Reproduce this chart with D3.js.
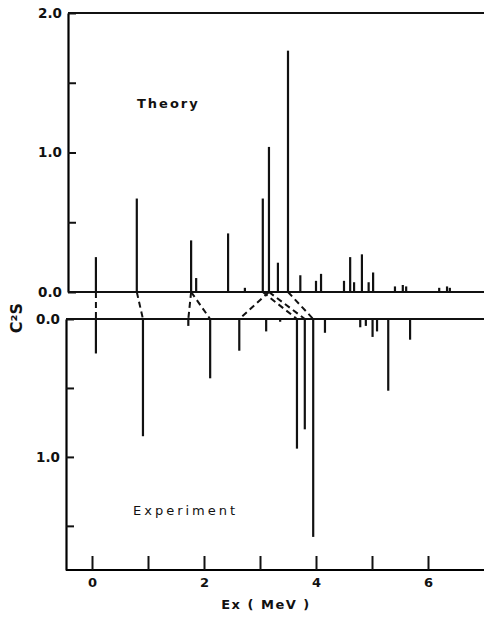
<!DOCTYPE html>
<html>
<head>
<meta charset="utf-8">
<script src="https://cdn.jsdelivr.net/npm/d3@7"></script>
<style>
  body { margin: 0; background: #fff; }
  svg text { font-family: "DejaVu Sans", sans-serif; fill: #111; }
</style>
</head>
<body>
<script>
// ---- data ----
const theoryE = [0.07, 0.80, 1.77, 1.86, 2.43, 2.73, 3.05, 3.16, 3.32, 3.50, 3.72, 4.00, 4.09,
                 4.50, 4.61, 4.68, 4.82, 4.94, 5.02, 5.41, 5.55, 5.61, 6.20, 6.34, 6.39];
const theoryS = [0.25, 0.67, 0.37, 0.10, 0.42, 0.03, 0.67, 1.04, 0.21, 1.73, 0.12, 0.08, 0.13,
                 0.08, 0.25, 0.07, 0.27, 0.07, 0.14, 0.04, 0.05, 0.04, 0.03, 0.04, 0.03];

const expE = [0.07, 0.91, 1.72, 2.11, 2.63, 3.11, 3.36, 3.66, 3.80, 3.95, 4.16, 4.79, 4.89, 5.01, 5.09, 5.29, 5.68];
const expS = [0.25, 0.85, 0.05, 0.43, 0.23, 0.09, 0.02, 0.94, 0.80, 1.58, 0.10, 0.06, 0.05, 0.13, 0.09, 0.52, 0.15];

// theory level -> experiment level
const links = [[0.07, 0.07], [0.80, 0.91], [1.77, 1.72], [1.77, 2.11],
               [3.16, 2.63], [3.05, 3.66], [3.16, 3.80], [3.50, 3.95]];

const xTicks = [0, 1, 2, 3, 4, 5, 6];
const yTicks = [0, 0.5, 1.0, 1.5, 2.0];

// ---- layout ----
const W = 484, H = 617;
const svg = d3.select("body").append("svg").attr("width", W).attr("height", H);

const x = d3.scaleLinear().domain([0, 7]).range([92, 484]);
const yTop = d3.scaleLinear().domain([0, 2]).range([292, 13]);
const yBot = d3.scaleLinear().domain([0, 1.82]).range([319, 570]);

const leftTop = 68, leftBot = 66;

// ---- top panel (Theory) ----
const axTop = svg.append("g").attr("transform", `translate(${leftTop},0)`)
    .call(d3.axisLeft(yTop).tickValues(yTicks).tickSize(-8).tickSizeOuter(0).tickPadding(6)
        .tickFormat(d => (d % 1 === 0) ? d.toFixed(1) : ""));
axTop.select(".domain").attr("stroke-width", 2.2);

svg.append("line").attr("x1", leftTop).attr("x2", W)
    .attr("y1", yTop(2)).attr("y2", yTop(2)).attr("stroke", "#111").attr("stroke-width", 2.2);
svg.append("line").attr("x1", leftTop).attr("x2", W)
    .attr("y1", yTop(0)).attr("y2", yTop(0)).attr("stroke", "#111").attr("stroke-width", 2);

svg.append("g").selectAll("line")
    .data(theoryE.map((e, i) => [e, theoryS[i]]))
    .join("line")
    .attr("x1", d => x(d[0])).attr("x2", d => x(d[0]))
    .attr("y1", yTop(0)).attr("y2", d => yTop(d[1]))
    .attr("stroke", "#111").attr("stroke-width", 2.2);

// ---- bottom panel (Experiment) ----
const axBot = svg.append("g").attr("transform", `translate(${leftBot},0)`)
    .call(d3.axisLeft(yBot).tickValues([0, 0.5, 1.0, 1.5]).tickSize(-8).tickSizeOuter(0).tickPadding(6)
        .tickFormat(d => (d % 1 === 0) ? d.toFixed(1) : ""));
axBot.select(".domain").attr("stroke-width", 2.2);

svg.append("line").attr("x1", leftBot).attr("x2", W)
    .attr("y1", yBot(0)).attr("y2", yBot(0)).attr("stroke", "#111").attr("stroke-width", 2);

svg.append("g").selectAll("line")
    .data(expE.map((e, i) => [e, expS[i]]))
    .join("line")
    .attr("x1", d => x(d[0])).attr("x2", d => x(d[0]))
    .attr("y1", yBot(0)).attr("y2", d => yBot(d[1]))
    .attr("stroke", "#111").attr("stroke-width", 2.2);

// x axis at bottom, ticks pointing up
const axX = svg.append("g").attr("transform", `translate(0,${yBot(1.82)})`)
    .call(d3.axisBottom(x).tickValues(xTicks).tickSize(-14).tickSizeOuter(0).tickPadding(8)
        .tickFormat(d => d % 2 === 0 ? d : ""));
axX.select(".domain").attr("d", `M${leftBot},0H${W}`).attr("stroke-width", 2.2);

// axis styling
svg.selectAll(".tick line").attr("stroke", "#111").attr("stroke-width", 2);
svg.selectAll(".tick text").attr("font-size", 13.5).attr("font-weight", "bold").attr("fill", "#111");
axX.selectAll(".tick text").attr("font-size", 13).attr("fill", "#333");

// ---- dashed level connectors ----
svg.append("g").selectAll("line")
    .data(links)
    .join("line")
    .attr("x1", d => x(d[0])).attr("y1", yTop(0))
    .attr("x2", d => x(d[1])).attr("y2", yBot(0))
    .attr("stroke", "#111").attr("stroke-width", 2)
    .attr("stroke-dasharray", "6,4");

// ---- labels ----
svg.append("text").attr("x", 137).attr("y", 108)
    .attr("font-size", 13).attr("font-weight", "bold").attr("letter-spacing", 2)
    .text("Theory");
svg.append("text").attr("x", 133).attr("y", 515)
    .attr("font-size", 13).attr("fill", "#333").attr("letter-spacing", 3)
    .text("Experiment");
svg.append("text").attr("x", 266).attr("y", 609).attr("text-anchor", "middle")
    .attr("font-size", 13).attr("font-weight", "bold").attr("fill", "#333").attr("letter-spacing", 1.5)
    .text("Ex ( MeV )");
svg.append("text").attr("transform", "translate(22,318) rotate(-90)")
    .attr("text-anchor", "middle").attr("font-size", 16).attr("font-weight", "bold")
    .text("C²S");
</script>
</body>
</html>
